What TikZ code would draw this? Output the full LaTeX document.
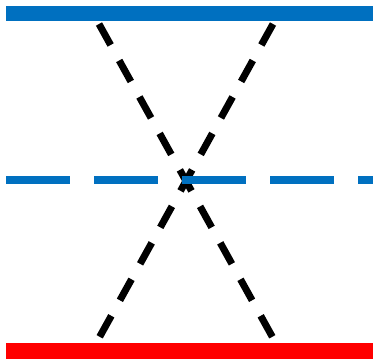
\documentclass[tikz,border=0pt]{standalone}
\definecolor{barblue}{HTML}{0070C0}
\definecolor{barred}{HTML}{FF0000}
\tikzset{
  blackdash/.style={line width=7pt, black, dash pattern=on 24pt off 17.7pt},
  bluedash/.style={line width=8pt, barblue, dash pattern=on 64pt off 24pt},
}
\begin{document}
\begin{tikzpicture}[x=1pt,y=-1pt]
\useasboundingbox (0,0) rectangle (373,360);
\fill[barblue] (6,6) rectangle (373,21);
\fill[barred] (6,343) rectangle (373,359);
\coordinate (tl) at (99,24);
\coordinate (tr) at (273,24);
\coordinate (bl) at (99,338);
\coordinate (br) at (273,338);
\coordinate (ml) at (6,180);
\coordinate (mr) at (373,180);
\draw[blackdash] (tl) -- (br);
\draw[blackdash] (tr) -- (bl);
\draw[bluedash] (ml) -- (mr);
\end{tikzpicture}
\end{document}
